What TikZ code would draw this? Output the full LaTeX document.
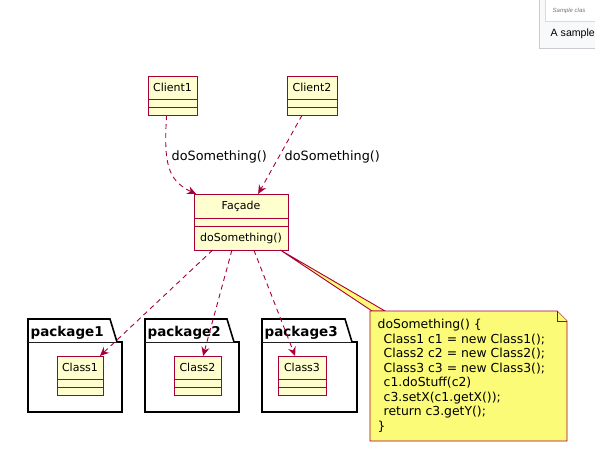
\documentclass[tikz,border=0pt]{standalone}
\usepackage{fontspec}
\setmainfont{DejaVu Sans}
\newfontfamily\wikifont{Liberation Sans}
\usetikzlibrary{arrows.meta,positioning}
\definecolor{faccrimson}{HTML}{A80036}
\definecolor{facfill}{HTML}{FEFECE}
\definecolor{facnotefill}{HTML}{FBFB77}
\definecolor{wikiborder}{HTML}{C8CCD1}
\definecolor{wikifill}{HTML}{F8F9FA}
\definecolor{wikigray}{HTML}{72777D}
\tikzset{
  facpart/.style={
    draw=faccrimson,
    fill=facfill,
    line width=0.9pt,
    inner sep=0pt,
    outer sep=0pt,
    font=\fontsize{11}{13}\selectfont
  },
  facname/.style={facpart,minimum height=23pt},
  facslot/.style={facpart,minimum height=8pt},
  facpkg/.style={draw=black,fill=white,line width=1.6pt,inner sep=0pt,outer sep=0pt},
  facpkgtab/.style={draw=black,fill=white,line width=1.6pt,line join=miter},
  facpkglabel/.style={font=\fontsize{13.5}{15}\selectfont\bfseries,inner sep=0pt,anchor=base west},
  facdep/.style={faccrimson,line width=0.9pt,dash pattern=on 5pt off 4pt,
                 -{Stealth[length=9pt,width=8pt,inset=3pt]}},
  faclabel/.style={font=\fontsize{12.8}{15}\selectfont,inner sep=0pt,anchor=base west},
  facnote/.style={draw=faccrimson,fill=facnotefill,line width=0.9pt,line join=miter},
  facnotetext/.style={font=\fontsize{12.4}{14.5}\selectfont,align=left,inner sep=0pt,anchor=north west},
  wikibox/.style={draw=wikiborder,fill=wikifill,line width=0.8pt}
}

\begin{document}
\begin{tikzpicture}[x=1pt,y=-1pt]
  \useasboundingbox (0,0) rectangle (595,461);
  \fill[white] (0,0) rectangle (595,461);
  \clip (0,0) rectangle (595,461);

  % cut-off caption box at the top right
  \draw[wikibox] (539,-5) rectangle (605,48);
  \draw[wikibox,draw=wikiborder!70,fill=white] (545,-5) rectangle (605,21);
  \node[wikigray,font=\wikifont\itshape\fontsize{6}{7}\selectfont,inner sep=0pt,anchor=base west]
    (wikithumb) at (552.5,12) {Sample clas};
  \node[font=\wikifont\fontsize{10.6}{12}\selectfont,inner sep=0pt,anchor=base west]
    (wikicap) at (550.5,36.5) {A sample};

  % clients
  \node[facname,minimum width=49pt] (cl1) at (172.5,87.7) {Client1};
  \node[facslot,minimum width=49pt,below=0pt of cl1] (cl1a) {};
  \node[facslot,minimum width=49pt,below=0pt of cl1a] (cl1b) {};
  \node[facname,minimum width=50pt] (cl2) at (312,87.7) {Client2};
  \node[facslot,minimum width=50pt,below=0pt of cl2] (cl2a) {};
  \node[facslot,minimum width=50pt,below=0pt of cl2a] (cl2b) {};

  % facade
  \node[facname,minimum width=94pt,minimum height=24pt] (fac) at (241,206) {Façade};
  \node[facslot,minimum width=94pt,below=0pt of fac] (faca) {};
  \node[facpart,minimum width=94pt,minimum height=24pt,below=0pt of faca] (facm) {doSomething()};

  % packages
  \node[facpkg,minimum width=94pt,minimum height=70pt] (pk1) at (75,377) {};
  \draw[facpkgtab] (pk1.north west) -- ++(0,-23) -- ++(82,0) -- ++(7,23);
  \node[facpkglabel] (pk1lbl) at (30.5,336.5) {package1};
  \node[facpkg,minimum width=94pt,minimum height=70pt] (pk2) at (192,377) {};
  \draw[facpkgtab] (pk2.north west) -- ++(0,-23) -- ++(82,0) -- ++(7,23);
  \node[facpkglabel] (pk2lbl) at (147.5,336.5) {package2};
  \node[facpkg,minimum width=95pt,minimum height=70pt] (pk3) at (309.5,377) {};
  \draw[facpkgtab] (pk3.north west) -- ++(0,-23) -- ++(83,0) -- ++(7,23);
  \node[facpkglabel] (pk3lbl) at (264.5,336.5) {package3};

  % classes
  \node[facname,minimum width=46pt] (cls1) at (80,367.5) {Class1};
  \node[facslot,minimum width=46pt,below=0pt of cls1] (cls1a) {};
  \node[facslot,minimum width=46pt,below=0pt of cls1a] (cls1b) {};
  \node[facname,minimum width=47pt] (cls2) at (197.5,367.5) {Class2};
  \node[facslot,minimum width=47pt,below=0pt of cls2] (cls2a) {};
  \node[facslot,minimum width=47pt,below=0pt of cls2a] (cls2b) {};
  \node[facname,minimum width=48pt] (cls3) at (302,367.5) {Class3};
  \node[facslot,minimum width=48pt,below=0pt of cls3] (cls3a) {};
  \node[facslot,minimum width=48pt,below=0pt of cls3a] (cls3b) {};

  % calls
  \draw[facdep] (cl1b.214) .. controls (164,160) and (166,180) .. (fac.165);
  \draw[facdep] (cl2b.202) -- (fac.35);
  \node[faclabel] (lbl1) at (171.5,160) {doSomething()};
  \node[faclabel] (lbl2) at (284.5,160) {doSomething()};
  \draw[facdep] (facm.203) -- (cls1.30);
  \draw[facdep] (facm.233) -- (cls2.64);
  \draw[facdep] (facm.317) -- (cls3.121);

  % note
  \draw[facnote] (facm.343) -- (372,311) -- (385,311) -- cycle;
  \draw[facnote] (370,311) -- (557,311) -- (567,321) -- (567,441) -- (370,441) -- cycle;
  \draw[facnote] (557,311) -- (557,321) -- (567,321);
  \node[facnotetext] (notetxt) at (377.5,319) {doSomething() \{\\
    \hspace*{6pt}Class1 c1 = new Class1();\\
    \hspace*{6pt}Class2 c2 = new Class2();\\
    \hspace*{6pt}Class3 c3 = new Class3();\\
    \hspace*{6pt}c1.doStuff(c2)\\
    \hspace*{6pt}c3.setX(c1.getX());\\
    \hspace*{6pt}return c3.getY();\\
    \}};
\end{tikzpicture}
\end{document}
